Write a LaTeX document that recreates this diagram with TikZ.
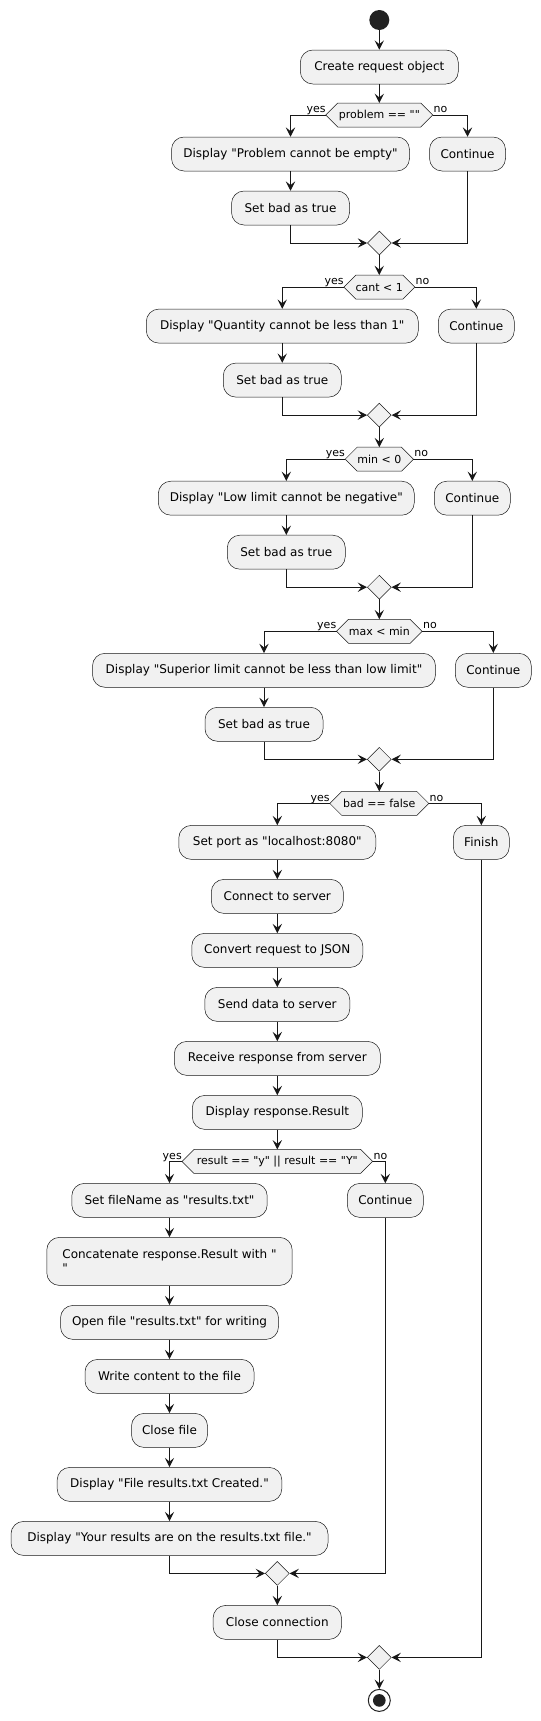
\documentclass[tikz,border=0pt]{standalone}
\usepackage{fontspec}
\setmainfont{DejaVu Sans}[Ligatures=TeXOff]
\usetikzlibrary{arrows.meta,shapes.geometric}
\definecolor{boxfill}{HTML}{F1F1F1}
\definecolor{ink}{HTML}{181818}
\definecolor{dot}{HTML}{222222}
\tikzset{
 act/.style={draw=ink, line width=0.375pt, fill=boxfill, rounded corners=9.4pt, minimum width=#1*0.75pt, minimum height=25.5pt, inner sep=0pt, font=\fontsize{9}{10.5}\selectfont, text=black},
 hexshape/.style={draw=ink, line width=0.375pt, fill=boxfill},
 hextext/.style={inner sep=0pt, font=\fontsize{8.25}{10}\selectfont},
 mergebox/.style={draw=ink, line width=0.375pt, fill=boxfill, diamond, minimum width=18pt, minimum height=18pt, inner sep=0pt},
 flow/.style={draw=ink, line width=0.75pt, -{Stealth[length=7pt,width=7pt,inset=2.8pt]}},
 lbl/.style={inner sep=0pt, font=\fontsize{8.25}{10}\selectfont},
}
\newcommand{\hexdec}[5]{%
 \path[hexshape] ({#2-#4/2},#3) -- ({#2-#4/2+12},{#3-12}) -- ({#2+#4/2-12},{#3-12}) -- ({#2+#4/2},#3) -- ({#2+#4/2-12},{#3+12}) -- ({#2-#4/2+12},{#3+12}) -- cycle;
 \coordinate (#1w) at ({#2-#4/2},#3);
 \coordinate (#1e) at ({#2+#4/2},#3);
 \coordinate (#1n) at (#2,{#3-12});
 \node[hextext] (#1) at (#2,#3) {#5};
 \node[lbl, anchor=base east] (#1yes) at ([yshift=1.8pt]#1w) {yes};
 \node[lbl, anchor=base west] (#1no) at ([xshift=0.5pt,yshift=1.8pt]#1e) {no};
}
\begin{document}
\begin{tikzpicture}[x=0.75pt,y=-0.75pt]
\useasboundingbox (0,0) rectangle (541,1721);
% start
\node[circle, fill=dot, minimum size=15pt, inner sep=0pt] (start) at (379.3,20) {};
\node[act=158] (create) at (379.3,67) {Create request object};
% block 1
\hexdec{h1}{379.3}{115}{107}{problem == ""}
\node[act=238] (disp1) at (290.5,154) {Display "Problem cannot be empty"};
\node[act=76] (cont1) at (467.5,154) {Continue};
\node[act=118] (bad1) at (290.5,208) {Set bad as true};
\node[mergebox] (m1) at (379.3,243) {};
% block 2
\hexdec{h2}{379.3}{287.1}{71}{cant < 1}
\node[act=272] (disp2) at (282.3,326.1) {Display "Quantity cannot be less than 1"};
\node[act=76] (cont2) at (476.3,326.1) {Continue};
\node[act=118] (bad2) at (282.3,380.1) {Set bad as true};
\node[mergebox] (m2) at (379.3,415.1) {};
% block 3
\hexdec{h3}{379.3}{459.2}{68.3}{min < 0}
\node[act=256] (disp3) at (286.3,498.2) {Display "Low limit cannot be negative"};
\node[act=76] (cont3) at (472.3,498.2) {Continue};
\node[act=118] (bad3) at (286.3,552.2) {Set bad as true};
\node[mergebox] (m3) at (379.3,587.2) {};
% block 4
\hexdec{h4}{379.3}{631.3}{85.6}{max < min}
\node[act=343] (disp4) at (264,670.3) {Display "Superior limit cannot be less than low limit"};
\node[act=76] (cont4) at (493.3,670.3) {Continue};
\node[act=118] (bad4) at (264,724.3) {Set bad as true};
\node[mergebox] (m4) at (379.3,759.3) {};
% block 5
\hexdec{h5}{379.3}{803.4}{99}{bad == false}
\node[act=197] (port) at (277.3,842.4) {Set port as "localhost:8080"};
\node[act=56] (finish) at (481.3,842.4) {Finish};
\node[act=132] (connect) at (277.3,896.4) {Connect to server};
\node[act=171] (convert) at (277.3,950.4) {Convert request to JSON};
\node[act=145] (send) at (277.3,1004.4) {Send data to server};
\node[act=206] (receive) at (277.3,1058.4) {Receive response from server};
\node[act=170] (dispresp) at (277.3,1112.4) {Display response.Result};
% block 6
\hexdec{h6}{277.3}{1161.4}{190.6}{result == "y" || result == "Y"}
\node[act=195.4] (fname) at (169.5,1200.4) {Set fileName as "results.txt"};
\node[act=76] (cont6) at (385.3,1200.4) {Continue};
\node[act=245.4, minimum height=36pt, align=left] (concat) at (169.5,1261.4) {Concatenate response.Result with "\\"};
\node[act=218] (openf) at (169.5,1322.4) {Open file "results.txt" for writing};
\node[act=169] (writef) at (169.5,1376.4) {Write content to the file};
\node[act=76] (closef) at (169.5,1430.4) {Close file};
\node[act=224.6] (dispfile) at (169.5,1484.4) {Display "File results.txt Created."};
\node[act=317] (dispyour) at (169.5,1538.4) {Display "Your results are on the results.txt file."};
\node[mergebox] (m5) at (277.3,1573.4) {};
\node[act=128.4] (closeconn) at (277.3,1622.4) {Close connection};
\node[mergebox] (m6) at (379.3,1657.4) {};
\node[circle, draw=dot, line width=0.75pt, fill=white, minimum size=16.5pt, inner sep=0pt] (end) at (379.3,1700.4) {};
\node[circle, fill=dot, minimum size=9.5pt, inner sep=0pt] (endin) at (end.center) {};
% connectors
\draw[flow] (start) -- (create.north);
\draw[flow] (create.south) -- (h1n);
\draw[flow] (h1w) -| (disp1.north);
\draw[flow] (h1e) -| (cont1.north);
\draw[flow] (disp1.south) -- (bad1.north);
\draw[flow] (bad1.south) |- (m1.west);
\draw[flow] (cont1.south) |- (m1.east);
\draw[flow] (m1.south) -- (h2n);
\draw[flow] (h2w) -| (disp2.north);
\draw[flow] (h2e) -| (cont2.north);
\draw[flow] (disp2.south) -- (bad2.north);
\draw[flow] (bad2.south) |- (m2.west);
\draw[flow] (cont2.south) |- (m2.east);
\draw[flow] (m2.south) -- (h3n);
\draw[flow] (h3w) -| (disp3.north);
\draw[flow] (h3e) -| (cont3.north);
\draw[flow] (disp3.south) -- (bad3.north);
\draw[flow] (bad3.south) |- (m3.west);
\draw[flow] (cont3.south) |- (m3.east);
\draw[flow] (m3.south) -- (h4n);
\draw[flow] (h4w) -| (disp4.north);
\draw[flow] (h4e) -| (cont4.north);
\draw[flow] (disp4.south) -- (bad4.north);
\draw[flow] (bad4.south) |- (m4.west);
\draw[flow] (cont4.south) |- (m4.east);
\draw[flow] (m4.south) -- (h5n);
\draw[flow] (h5w) -| (port.north);
\draw[flow] (h5e) -| (finish.north);
\draw[flow] (port.south) -- (connect.north);
\draw[flow] (connect.south) -- (convert.north);
\draw[flow] (convert.south) -- (send.north);
\draw[flow] (send.south) -- (receive.north);
\draw[flow] (receive.south) -- (dispresp.north);
\draw[flow] (dispresp.south) -- (h6n);
\draw[flow] (h6w) -| (fname.north);
\draw[flow] (h6e) -| (cont6.north);
\draw[flow] (fname.south) -- (concat.north);
\draw[flow] (concat.south) -- (openf.north);
\draw[flow] (openf.south) -- (writef.north);
\draw[flow] (writef.south) -- (closef.north);
\draw[flow] (closef.south) -- (dispfile.north);
\draw[flow] (dispfile.south) -- (dispyour.north);
\draw[flow] (dispyour.south) |- (m5.west);
\draw[flow] (cont6.south) |- (m5.east);
\draw[flow] (m5.south) -- (closeconn.north);
\draw[flow] (closeconn.south) |- (m6.west);
\draw[flow] (finish.south) |- (m6.east);
\draw[flow] (m6.south) -- (end.north);
\end{tikzpicture}
\end{document}
